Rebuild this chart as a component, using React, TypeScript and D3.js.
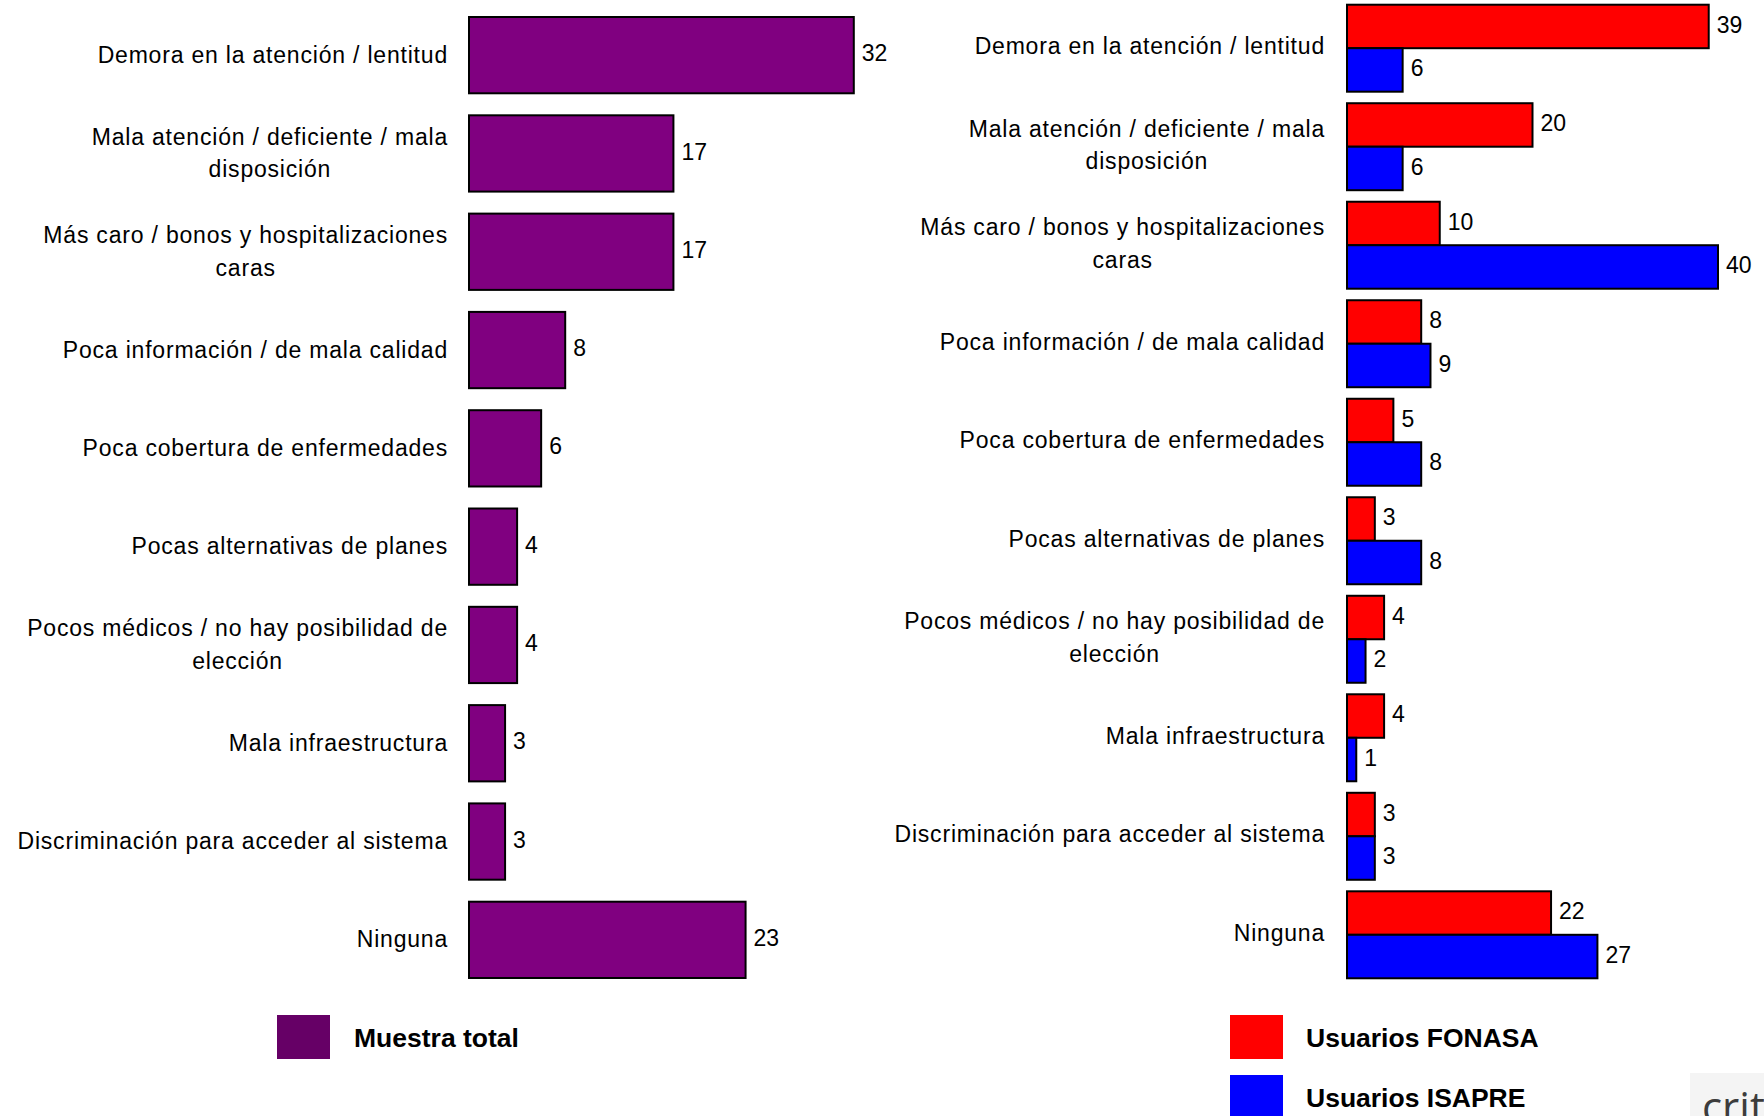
import React, { useEffect, useRef } from "react";
import * as d3 from "d3";

// Categories (a "\n" marks a manual line break in the label)
const categories: string[] = [
  "Demora en la atención / lentitud",
  "Mala atención / deficiente / mala\ndisposición",
  "Más caro / bonos y hospitalizaciones\ncaras",
  "Poca información / de mala calidad",
  "Poca cobertura de enfermedades",
  "Pocas alternativas de planes",
  "Pocos médicos / no hay posibilidad de\nelección",
  "Mala infraestructura",
  "Discriminación para acceder al sistema",
  "Ninguna",
];

const totalValues: number[] = [32, 17, 17, 8, 6, 4, 4, 3, 3, 23];
const fonasaValues: number[] = [39, 20, 10, 8, 5, 3, 4, 4, 3, 22];
const isapreValues: number[] = [6, 6, 40, 9, 8, 8, 2, 1, 3, 27];

const seriesKeys: string[] = ["fonasa", "isapre"];
const seriesLabels: string[] = ["Usuarios FONASA", "Usuarios ISAPRE"];
const totalLabel = "Muestra total";

const W = 1764;
const H = 1116;
const FONT = "'Liberation Sans', Arial, Helvetica, sans-serif";
const PURPLE = "#800080";
const PURPLE_KEY = "#660066";
const RED = "#ff0000";
const BLUE = "#0000ff";

export default function App() {
  const ref = useRef<SVGSVGElement | null>(null);

  useEffect(() => {
    const svg = d3.select(ref.current);
    svg.selectAll("*").remove();

    const catFont = 23;
    const lineGap = 32.5;

    // Draws a right-aligned category label; multi-line labels are centred
    // on the widest line.
    const drawLabel = (g: any, text: string, rightX: number, cy: number) => {
      const lines = text.split("\n");
      const t = g
        .append("text")
        .attr("font-family", FONT)
        .attr("font-size", catFont)
        .attr("letter-spacing", 0.8)
        .attr("fill", "#000");
      const n = lines.length;
      const spans = lines.map((ln, i) =>
        t
          .append("tspan")
          .attr("y", cy + (i - (n - 1) / 2) * lineGap)
          .attr("dy", "0.35em")
          .text(ln)
      );
      if (n === 1) {
        t.attr("text-anchor", "end");
        spans[0].attr("x", rightX);
      } else {
        const widths = spans.map((s: any) => (s.node() as SVGTSpanElement).getComputedTextLength());
        const maxW = Math.max(...widths);
        t.attr("text-anchor", "middle");
        spans.forEach((s: any) => s.attr("x", rightX - maxW / 2));
      }
    };

    const valueLabel = (g: any, x: number, cy: number, v: number) => {
      g.append("text")
        .attr("x", x + 8)
        .attr("y", cy - 2)
        .attr("dy", "0.35em")
        .attr("font-family", FONT)
        .attr("font-size", 23)
        .attr("fill", "#000")
        .text(v);
    };

    // ---- Left panel: total sample ----
    const left = svg.append("g");
    const yL = d3.scaleBand<string>().domain(categories).range([6, 989]).paddingInner(0.224).paddingOuter(0.112);
    const xL = d3.scaleLinear().domain([0, 40]).range([469, 950]);

    categories.forEach((c, i) => {
      const y0 = yL(c)!;
      const bh = yL.bandwidth();
      left
        .append("rect")
        .attr("x", xL(0))
        .attr("y", y0)
        .attr("width", xL(totalValues[i]) - xL(0))
        .attr("height", bh)
        .attr("fill", PURPLE)
        .attr("stroke", "#000")
        .attr("stroke-width", 2);
      valueLabel(left, xL(totalValues[i]), y0 + bh / 2, totalValues[i]);
      drawLabel(left, c, 448, y0 + bh / 2 - 0.5);
    });

    // ---- Right panel: FONASA vs ISAPRE ----
    const right = svg.append("g");
    const yR = d3.scaleBand<string>().domain(categories).range([-1, 984]).paddingInner(0.117).paddingOuter(0.058);
    const yInner = d3.scaleBand<string>().domain(seriesKeys).range([0, yR.bandwidth()]);
    const xR = d3.scaleLinear().domain([0, 40]).range([1347, 1718]);
    const colors = [RED, BLUE];
    const seriesVals = [fonasaValues, isapreValues];

    categories.forEach((c, i) => {
      const g0 = yR(c)!;
      seriesKeys.forEach((k, j) => {
        const v = seriesVals[j][i];
        const y0 = g0 + yInner(k)!;
        const bh = yInner.bandwidth();
        right
          .append("rect")
          .attr("x", xR(0))
          .attr("y", y0)
          .attr("width", xR(v) - xR(0))
          .attr("height", bh)
          .attr("fill", colors[j])
          .attr("stroke", "#000")
          .attr("stroke-width", 2);
        valueLabel(right, xR(v), y0 + bh / 2, v);
      });
      drawLabel(right, c, 1325, g0 + yR.bandwidth() / 2 - 2);
    });

    // ---- Legends ----
    const legend = svg.append("g").attr("font-family", FONT).attr("font-weight", "bold").attr("font-size", 26.5);
    legend.append("rect").attr("x", 277).attr("y", 1015).attr("width", 53).attr("height", 44).attr("fill", PURPLE_KEY);
    legend.append("text").attr("x", 354).attr("y", 1038).attr("dy", "0.35em").text(totalLabel);

    seriesLabels.forEach((lab, j) => {
      const ty = 1015 + j * 60;
      legend.append("rect").attr("x", 1230).attr("y", ty).attr("width", 53).attr("height", 44).attr("fill", colors[j]);
      legend.append("text").attr("x", 1306).attr("y", ty + 23).attr("dy", "0.35em").text(lab);
    });

    // ---- Corner mark ----
    svg.append("rect").attr("x", 1690).attr("y", 1073).attr("width", 74).attr("height", 43).attr("fill", "#f4f4f4");
    svg
      .append("text")
      .attr("x", 1702)
      .attr("y", 1122)
      .attr("font-family", "'Open Sans', 'Noto Sans', sans-serif")
      .attr("font-size", 42)
      .attr("fill", "#3c3c3c")
      .text("crit");
  }, []);

  return (
    <svg
      ref={ref}
      width={W}
      height={H}
      style={{ position: "absolute", left: 0, top: 0, background: "#fff" }}
    />
  );
}
